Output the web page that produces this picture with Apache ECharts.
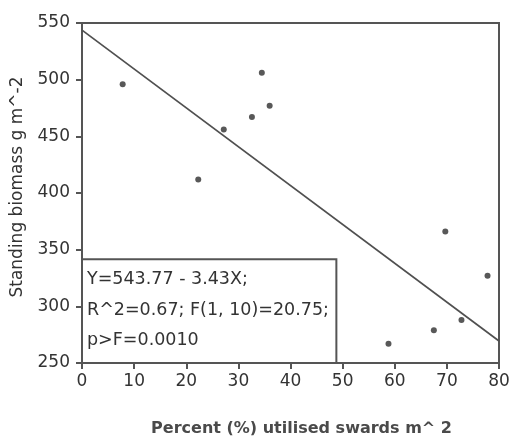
<!DOCTYPE html>
<html>
<head>
<meta charset="utf-8">
<script src="https://cdn.jsdelivr.net/npm/echarts@6/dist/echarts.min.js"></script>
<style>
  html, body { margin: 0; padding: 0; background: #ffffff; }
  #chart { width: 514px; height: 443px; }
</style>
</head>
<body>
<div id="chart"></div>
<script>
// Observed plots: share of utilised swards (%) vs standing biomass (g m^-2)
const utilisedPct = [7.8, 22.3, 27.2, 32.6, 34.5, 36.0, 58.8, 67.5, 69.7, 72.8, 77.8];
const biomass     = [496, 412, 456, 467, 506, 477, 267, 279, 366, 288, 327];

// Fitted regression Y = a + bX
const intercept = 543.77;
const slope = -3.43;
const fitRange = [0, 80];

// Fit statistics printed in the box
const statLines = ['Y=543.77 - 3.43X;', 'R^2=0.67; F(1, 10)=20.75;', 'p>F=0.0010'];
const statBox = { xMin: 0, xMax: 48.8, yMin: 250, yMax: 341.5 };

const xTicks = { min: 0, max: 80, interval: 10 };
const yTicks = { min: 250, max: 550, interval: 50 };

const axisColor = '#555555';
const textColor = '#333333';
const font = 'DejaVu Sans';

const points = utilisedPct.map((x, i) => [x, biomass[i]]);
const fitLine = fitRange.map(x => [x, +(intercept + slope * x).toFixed(2)]);

const chart = echarts.init(document.getElementById('chart'));
chart.setOption({
  backgroundColor: '#ffffff',
  animation: false,
  grid: { left: 82, right: 15, top: 23, bottom: 80, show: true, borderColor: axisColor, borderWidth: 2, backgroundColor: 'transparent' },
  xAxis: {
    type: 'value',
    min: xTicks.min, max: xTicks.max, interval: xTicks.interval,
    name: 'Percent (%) utilised swards m^ 2',
    nameLocation: 'middle',
    nameGap: 58,
    nameTextStyle: { fontFamily: font, fontSize: 16, fontWeight: 'bold', color: '#4a4a4a', padding: [0, 0, 0, 22] },
    axisLine: { show: true, onZero: false, lineStyle: { color: axisColor, width: 2 } },
    axisTick: { show: true, inside: false, length: 6, lineStyle: { color: axisColor, width: 2 } },
    axisLabel: { fontFamily: font, fontSize: 17, color: textColor, margin: 10 },
    splitLine: { show: false }
  },
  yAxis: {
    type: 'value',
    min: yTicks.min, max: yTicks.max, interval: yTicks.interval,
    name: 'Standing biomass g m^-2',
    nameLocation: 'middle',
    nameGap: 56,
    nameTextStyle: { fontFamily: font, fontSize: 17, color: textColor, padding: [0, 0, 0, 12] },
    axisLine: { show: true, onZero: false, lineStyle: { color: axisColor, width: 2 } },
    axisTick: { show: true, inside: false, length: 6, lineStyle: { color: axisColor, width: 2 } },
    axisLabel: { fontFamily: font, fontSize: 17, color: textColor, margin: 12 },
    splitLine: { show: false }
  },
  series: [
    {
      type: 'line',
      data: fitLine,
      symbol: 'none',
      lineStyle: { color: '#505050', width: 1.7 },
      z: 2,
      markArea: {
        silent: true,
        itemStyle: { color: 'rgba(0,0,0,0)', borderColor: axisColor, borderWidth: 2 },
        label: {
          show: true,
          position: 'insideTopLeft',
          distance: 6,
          formatter: statLines.join('\n'),
          fontFamily: font, fontSize: 17.5, lineHeight: 30.5, color: textColor
        },
        data: [[{ coord: [statBox.xMin, statBox.yMax] }, { coord: [statBox.xMax, statBox.yMin] }]]
      }
    },
    {
      type: 'scatter',
      data: points,
      symbol: 'circle',
      symbolSize: 6,
      itemStyle: { color: '#2e2e2e' },
      z: 3
    }
  ]
});
</script>
</body>
</html>
